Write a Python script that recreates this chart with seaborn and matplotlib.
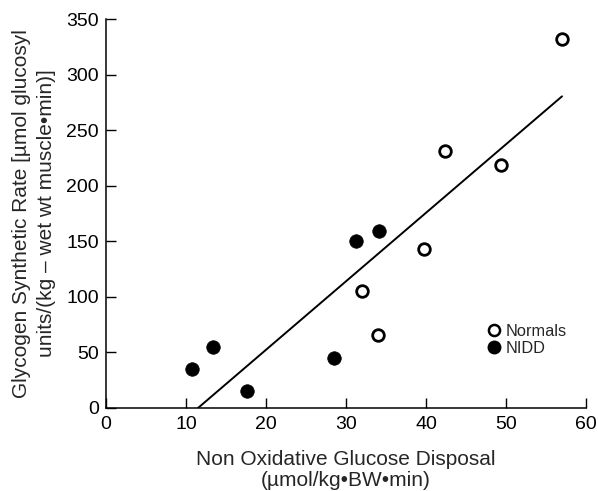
import matplotlib
matplotlib.use("Agg")
import matplotlib.pyplot as plt
import seaborn as sns
import pandas as pd
from matplotlib.lines import Line2D

# Data
normals_x = [57.0, 42.4, 49.4, 39.7, 32.0, 34.0]
normals_y = [332, 231, 219, 143, 105, 65.5]
nidd_x = [31.2, 34.1, 10.8, 13.4, 17.6, 28.5]
nidd_y = [150, 159, 35, 54.5, 15, 44.6]
x_ticks = [0, 10, 20, 30, 40, 50, 60]
y_ticks = [0, 50, 100, 150, 200, 250, 300, 350]

df = pd.DataFrame({
    "x": normals_x + nidd_x,
    "y": normals_y + nidd_y,
    "group": ["Normals"] * len(normals_x) + ["NIDD"] * len(nidd_x),
})

sns.set_style("ticks")
plt.rcParams["font.family"] = ["Liberation Sans", "DejaVu Sans"]

fig = plt.figure(figsize=(5.98, 4.91), dpi=100)
ax = fig.add_axes([106 / 598, (491 - 408) / 491, 480 / 598, 389 / 491])

# regression line through all points
sns.regplot(data=df, x="x", y="y", scatter=False, ci=None, truncate=True,
            color="black", line_kws={"linewidth": 1.4}, ax=ax)

sns.scatterplot(data=df[df.group == "Normals"], x="x", y="y", ax=ax,
                marker="o", s=70, facecolor="white", edgecolor="black",
                linewidth=2.0, zorder=3, legend=False)
sns.scatterplot(data=df[df.group == "NIDD"], x="x", y="y", ax=ax,
                marker="o", s=95, color="black", edgecolor="black",
                linewidth=0.5, zorder=3, legend=False)

ax.set_xlim(0, 60)
ax.set_ylim(0, 350)
ax.set_xticks(x_ticks)
ax.set_yticks(y_ticks)
ax.tick_params(direction="in", length=7, width=1, labelsize=14,
               colors="black")
ax.tick_params(axis="x", pad=6)
ax.tick_params(axis="y", pad=5)
for s in ["top", "right"]:
    ax.spines[s].set_visible(False)
for s in ["left", "bottom"]:
    ax.spines[s].set_linewidth(1.1)
    ax.spines[s].set_color("black")

ax.set_xlabel("Non Oxidative Glucose Disposal\n(\u00b5mol/kg\u2022BW\u2022min)",
              fontsize=15, linespacing=1.15, labelpad=12)
ax.set_ylabel("Glycogen Synthetic Rate [\u00b5mol glucosyl\nunits/(kg \u2013 wet wt muscle\u2022min)]",
              fontsize=15, linespacing=1.4, labelpad=7.5)

handles = [
    Line2D([], [], marker="o", linestyle="", markerfacecolor="white",
           markeredgecolor="black", markeredgewidth=1.8, markersize=8),
    Line2D([], [], marker="o", linestyle="", markerfacecolor="black",
           markeredgecolor="black", markersize=9),
]
ax.legend(handles, ["Normals", "NIDD"], loc="upper left",
          bbox_to_anchor=(0.775, 0.233), frameon=False, fontsize=11.8,
          handletextpad=0.1, labelspacing=0.12, handlelength=1.2,
          borderaxespad=0)

fig.savefig("out.png", dpi=100)
